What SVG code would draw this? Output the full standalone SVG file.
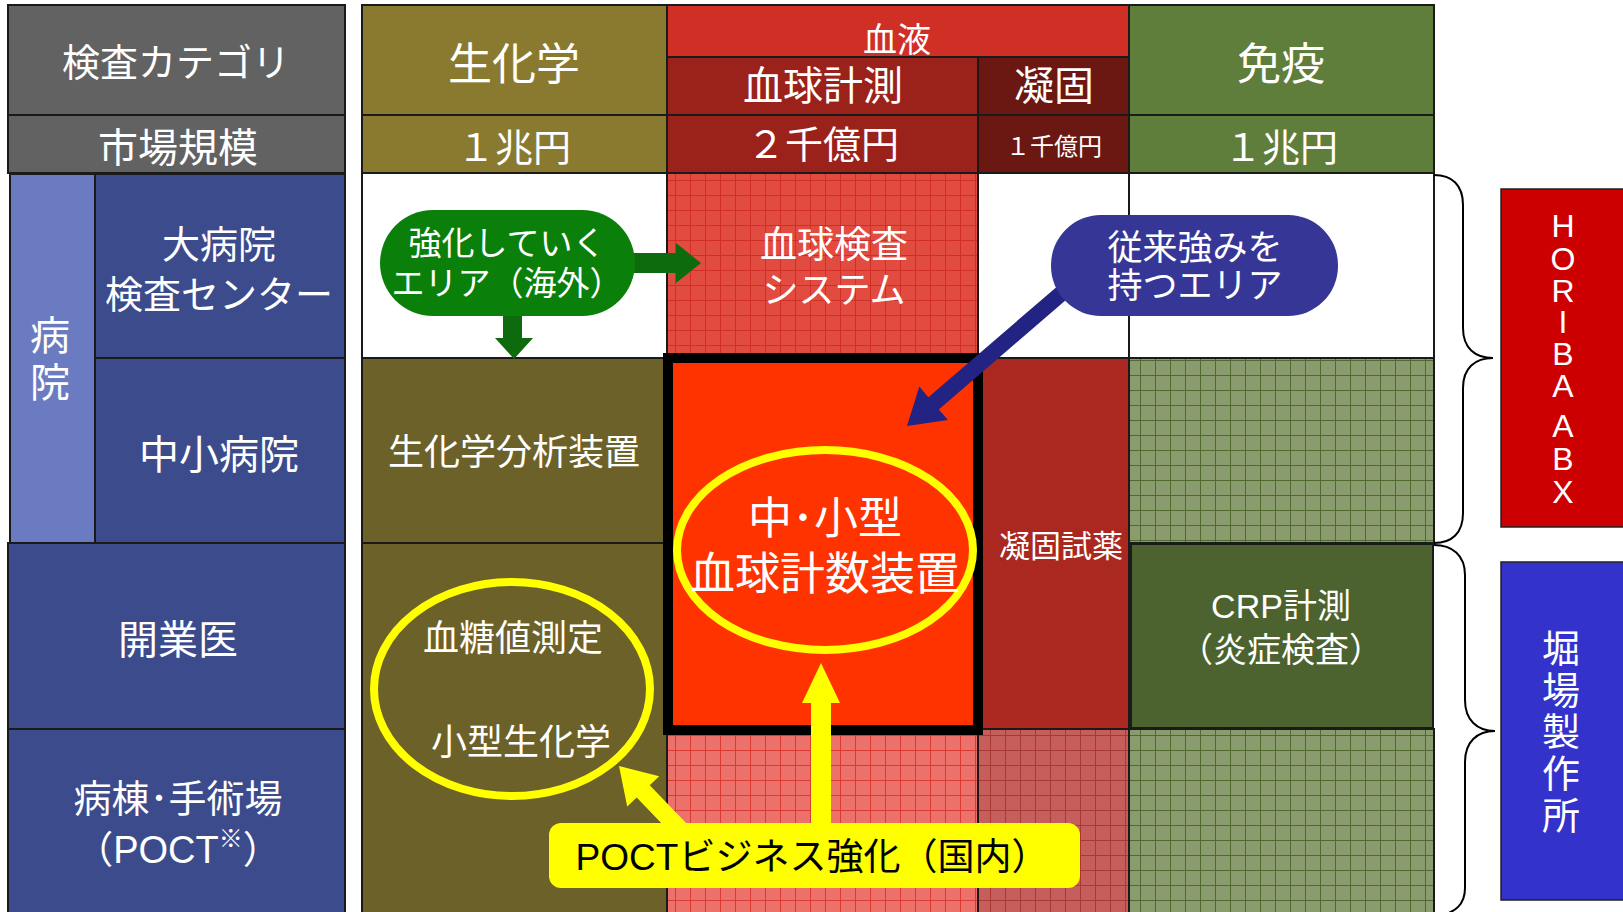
<svg xmlns="http://www.w3.org/2000/svg" width="1623" height="912" viewBox="0 0 1623 912">
<style>
text{font-family:"Liberation Sans","Noto Sans CJK JP",sans-serif;fill:#fff;text-anchor:middle;dominant-baseline:central}
.c{stroke:#1a1a1a;stroke-width:2}
.k{fill:#000}
</style>
<defs>
<pattern id="pR1" width="15" height="15" patternUnits="userSpaceOnUse"><rect width="15" height="15" fill="#e24c40"/><path d="M0 0.5H15M0.5 0V15" stroke="#cf2f26" stroke-width="1"/></pattern>
<pattern id="pR4" width="15" height="15" patternUnits="userSpaceOnUse"><rect width="15" height="15" fill="#ec716a"/><path d="M0 0.5H15M0.5 0V15" stroke="#d93a33" stroke-width="1"/></pattern>
<pattern id="pC4" width="15" height="15" patternUnits="userSpaceOnUse"><rect width="15" height="15" fill="#c65e5b"/><path d="M0 0.5H15M0.5 0V15" stroke="#a83935" stroke-width="1"/></pattern>
<pattern id="pG" width="15" height="15" patternUnits="userSpaceOnUse"><rect width="15" height="15" fill="#8a9c6e"/><path d="M0 0.5H15M0.5 0V15" stroke="#4e6a2e" stroke-width="1"/></pattern>
</defs>
<rect width="1623" height="912" fill="#fff"/>

<g id="left-column">
<g id="n-category"><rect class="c" x="8" y="5" width="337" height="110" fill="#626262"/><text x="176" y="63" font-size="38">検査カテゴリ</text></g>
<g id="n-market"><rect class="c" x="8" y="115" width="337" height="58" fill="#626262"/><text x="178" y="148" font-size="40">市場規模</text></g>
<g id="n-hospital"><rect class="c" x="10" y="174" width="85" height="369" fill="#6b7bc2"/><text x="50 50" y="336 383" font-size="40">病院</text></g>
<g id="n-large"><rect class="c" x="95" y="174" width="250" height="184" fill="#3c4b8c"/><text x="219" y="245" font-size="38">大病院</text><text x="219" y="295" font-size="38">検査センター</text></g>
<g id="n-small"><rect class="c" x="95" y="358" width="250" height="185" fill="#3c4b8c"/><text x="219" y="455" font-size="40">中小病院</text></g>
<g id="n-clinic"><rect class="c" x="8" y="543" width="337" height="186" fill="#3c4b8c"/><text x="178" y="640" font-size="40">開業医</text></g>
<g id="n-ward"><rect class="c" x="8" y="729" width="337" height="190" fill="#3c4b8c"/><text x="178" y="799" font-size="38">病棟･手術場</text><text x="178" y="850" font-size="38">（POCT<tspan font-size="24" dy="-12">※</tspan><tspan dy="12">）</tspan></text></g>
</g>

<g id="headers">
<g id="h-bio"><rect class="c" x="362" y="5" width="305" height="110" fill="#8a7a2f"/><text x="514" y="64" font-size="44">生化学</text><rect class="c" x="362" y="115" width="305" height="58" fill="#8a7a2f"/><text x="514" y="148" font-size="38">１兆円</text></g>
<g id="h-blood"><rect class="c" x="667" y="5" width="462" height="52" fill="#cf2f24"/><text x="897" y="40" font-size="34">血液</text></g>
<g id="h-count"><rect class="c" x="667" y="57" width="311" height="58" fill="#9a221b"/><text x="823" y="86" font-size="40">血球計測</text><rect class="c" x="667" y="115" width="311" height="58" fill="#9a221b"/><text x="823" y="145" font-size="38">２千億円</text></g>
<g id="h-coag"><rect class="c" x="978" y="57" width="151" height="58" fill="#6b1712"/><text x="1054" y="86" font-size="40">凝固</text><rect class="c" x="978" y="115" width="151" height="58" fill="#6b1712"/><text x="1054" y="146" font-size="24">１千億円</text></g>
<g id="h-immuno"><rect class="c" x="1129" y="5" width="305" height="110" fill="#5f7d3b"/><text x="1281" y="64" font-size="44">免疫</text><rect class="c" x="1129" y="115" width="305" height="58" fill="#5f7d3b"/><text x="1281" y="148" font-size="38">１兆円</text></g>
</g>

<g id="cells">
<rect class="c" x="362" y="173" width="305" height="185" fill="#fff"/>
<g id="n-bloodsys"><rect class="c" x="667" y="173" width="311" height="185" fill="url(#pR1)"/><text x="834" y="245" font-size="37">血球検査</text><text x="834" y="290" font-size="36">システム</text></g>
<rect class="c" x="978" y="173" width="151" height="185" fill="#fff"/>
<rect class="c" x="1129" y="173" width="305" height="185" fill="#fff"/>
<g id="n-bioanalyzer"><rect class="c" x="362" y="358" width="305" height="185" fill="#6c6128"/><text x="514" y="452" font-size="36">生化学分析装置</text></g>
<rect class="c" x="362" y="543" width="305" height="380" fill="#6c6128"/>
<g id="n-coagreagent"><rect class="c" x="978" y="358" width="151" height="371" fill="#aa2820"/><text x="1061" y="546" font-size="31">凝固試薬</text></g>
<rect class="c" x="1129" y="358" width="305" height="185" fill="url(#pG)"/>
<g id="n-crp"><rect class="c" x="1131" y="544" width="302" height="184" fill="#4c632f"/><text x="1281" y="606" font-size="34">CRP計測</text><text x="1281" y="650" font-size="34">（炎症検査）</text></g>
<rect class="c" x="667" y="729" width="311" height="190" fill="url(#pR4)"/>
<rect class="c" x="978" y="729" width="151" height="190" fill="url(#pC4)"/>
<rect class="c" x="1129" y="729" width="305" height="190" fill="url(#pG)"/>
<g id="n-core"><rect x="668" y="358" width="310" height="372" fill="#ff3300" stroke="#000" stroke-width="10"/></g>
</g>

<g id="connectors">
<polygon fill="#0d6b0d" points="630,253 676,253 676,243 701,263 676,283 676,273 630,273"/>
<polygon fill="#0d6b0d" points="503,310 522,310 522,338 533,338 514,359 495,338 503,338"/>
<polygon fill="#232384" points="1075.2,292.1 938.8,409.4 947.9,420 907,426 919.3,386.6 928.4,397.2 1064.8,279.9"/>
<polygon fill="#ffff00" points="811,830 811,703 802,703 821,663 840,703 831,703 831,830"/>
<polygon fill="#ffff00" points="696.5,833.8 649.7,785.2 659.2,776.2 619,766 627.2,806.6 636.7,797.6 683.5,846.2"/>
<path fill="none" stroke="#000" stroke-width="2" d="M1434,175 C1452,175 1463,185 1463,205 L1463,328 C1463,348 1475,358 1493,358 C1475,358 1463,368 1463,388 L1463,513 C1463,533 1452,543 1434,543"/>
<path fill="none" stroke="#000" stroke-width="2" d="M1434,545 C1452,545 1465,555 1465,575 L1465,700 C1465,720 1477,731 1495,731 C1477,731 1465,742 1465,762 L1465,888 C1465,905 1455,912 1440,916"/>
</g>

<g id="n-overseas"><rect x="380" y="210" width="255" height="106" rx="53" fill="#0a800a"/><text x="507" y="243" font-size="33">強化していく</text><text x="507" y="283" font-size="33">エリア（海外）</text></g>
<g id="n-strength"><rect x="1051" y="215" width="287" height="101" rx="50" fill="#363696"/><text x="1195" y="247" font-size="35">従来強みを</text><text x="1195" y="285" font-size="35">持つエリア</text></g>
<g id="n-midsmall"><ellipse cx="825" cy="550" rx="148" ry="100" fill="none" stroke="#ffff00" stroke-width="8"/><text x="825" y="518" font-size="44">中･小型</text><text x="825" y="574" font-size="45">血球計数装置</text></g>
<g id="n-glucose"><ellipse cx="512" cy="689" rx="138" ry="107" fill="none" stroke="#ffff00" stroke-width="8"/><text x="513" y="638" font-size="36">血糖値測定</text><text x="521" y="742" font-size="36">小型生化学</text></g>
<g id="n-poct"><rect x="549" y="823" width="531" height="65" rx="12" fill="#ffff00"/><text class="k" x="812" y="857" font-size="37">POCTビジネス強化（国内）</text></g>

<g id="n-horiba"><rect x="1501" y="189" width="130" height="338" fill="#cc0000" stroke="#222" stroke-width="1.5"/>
<text font-size="32" x="1563 1563 1563 1563 1563 1563 1563 1563 1563 1563" y="226 259 291 322 354 386 406 426 459 492">HORIBA ABX</text></g>
<g id="n-horibaltd"><rect x="1501" y="562" width="130" height="338" fill="#3333cc" stroke="#222" stroke-width="1.5"/>
<text font-size="38" x="1561 1561 1561 1561 1561" y="649 691 732 774 816">堀場製作所</text></g>
</svg>
